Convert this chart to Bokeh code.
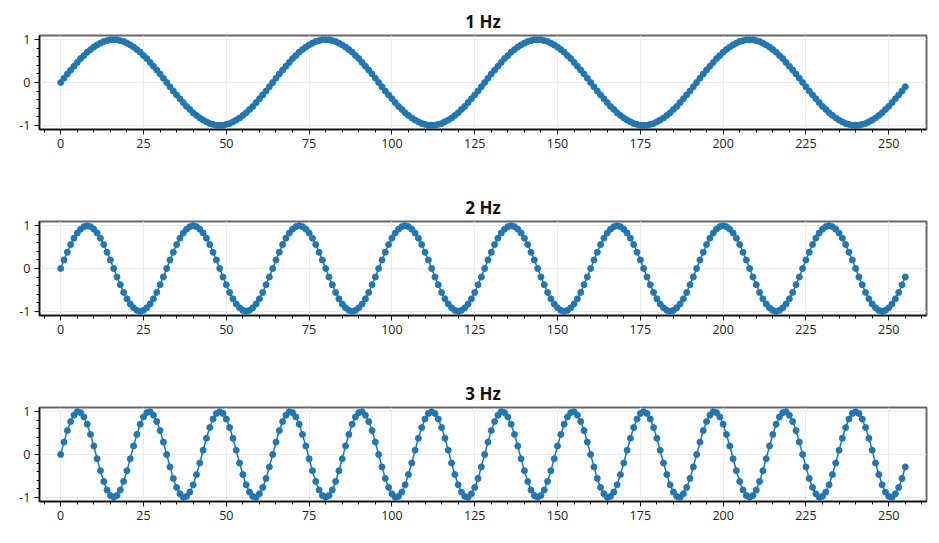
from bokeh.plotting import figure
from bokeh.layouts import column
from bokeh.models import FixedTicker, Range1d, ColumnDataSource
from bokeh.embed import file_html
from bokeh.resources import INLINE

# ---- data (256 samples per panel) ----
sample_index = list(range(256))

titles = ["1 Hz", "2 Hz", "3 Hz"]

wave_1hz = [
    0.00, 0.10, 0.20, 0.29, 0.38, 0.47, 0.56, 0.63, 0.71, 0.77, 0.83, 0.88, 0.92, 0.96, 0.98, 1.00,
    1.00, 1.00, 0.98, 0.96, 0.92, 0.88, 0.83, 0.77, 0.71, 0.63, 0.56, 0.47, 0.38, 0.29, 0.20, 0.10,
    0.00, -0.10, -0.20, -0.29, -0.38, -0.47, -0.56, -0.63, -0.71, -0.77, -0.83, -0.88, -0.92, -0.96, -0.98, -1.00,
    -1.00, -1.00, -0.98, -0.96, -0.92, -0.88, -0.83, -0.77, -0.71, -0.63, -0.56, -0.47, -0.38, -0.29, -0.20, -0.10,
    0.00, 0.10, 0.20, 0.29, 0.38, 0.47, 0.56, 0.63, 0.71, 0.77, 0.83, 0.88, 0.92, 0.96, 0.98, 1.00,
    1.00, 1.00, 0.98, 0.96, 0.92, 0.88, 0.83, 0.77, 0.71, 0.63, 0.56, 0.47, 0.38, 0.29, 0.20, 0.10,
    0.00, -0.10, -0.20, -0.29, -0.38, -0.47, -0.56, -0.63, -0.71, -0.77, -0.83, -0.88, -0.92, -0.96, -0.98, -1.00,
    -1.00, -1.00, -0.98, -0.96, -0.92, -0.88, -0.83, -0.77, -0.71, -0.63, -0.56, -0.47, -0.38, -0.29, -0.20, -0.10,
    0.00, 0.10, 0.20, 0.29, 0.38, 0.47, 0.56, 0.63, 0.71, 0.77, 0.83, 0.88, 0.92, 0.96, 0.98, 1.00,
    1.00, 1.00, 0.98, 0.96, 0.92, 0.88, 0.83, 0.77, 0.71, 0.63, 0.56, 0.47, 0.38, 0.29, 0.20, 0.10,
    0.00, -0.10, -0.20, -0.29, -0.38, -0.47, -0.56, -0.63, -0.71, -0.77, -0.83, -0.88, -0.92, -0.96, -0.98, -1.00,
    -1.00, -1.00, -0.98, -0.96, -0.92, -0.88, -0.83, -0.77, -0.71, -0.63, -0.56, -0.47, -0.38, -0.29, -0.20, -0.10,
    0.00, 0.10, 0.20, 0.29, 0.38, 0.47, 0.56, 0.63, 0.71, 0.77, 0.83, 0.88, 0.92, 0.96, 0.98, 1.00,
    1.00, 1.00, 0.98, 0.96, 0.92, 0.88, 0.83, 0.77, 0.71, 0.63, 0.56, 0.47, 0.38, 0.29, 0.20, 0.10,
    0.00, -0.10, -0.20, -0.29, -0.38, -0.47, -0.56, -0.63, -0.71, -0.77, -0.83, -0.88, -0.92, -0.96, -0.98, -1.00,
    -1.00, -1.00, -0.98, -0.96, -0.92, -0.88, -0.83, -0.77, -0.71, -0.63, -0.56, -0.47, -0.38, -0.29, -0.20, -0.10,
]

wave_2hz = [
    0.00, 0.20, 0.38, 0.56, 0.71, 0.83, 0.92, 0.98, 1.00, 0.98, 0.92, 0.83, 0.71, 0.56, 0.38, 0.20,
    0.00, -0.20, -0.38, -0.56, -0.71, -0.83, -0.92, -0.98, -1.00, -0.98, -0.92, -0.83, -0.71, -0.56, -0.38, -0.20,
    0.00, 0.20, 0.38, 0.56, 0.71, 0.83, 0.92, 0.98, 1.00, 0.98, 0.92, 0.83, 0.71, 0.56, 0.38, 0.20,
    0.00, -0.20, -0.38, -0.56, -0.71, -0.83, -0.92, -0.98, -1.00, -0.98, -0.92, -0.83, -0.71, -0.56, -0.38, -0.20,
    0.00, 0.20, 0.38, 0.56, 0.71, 0.83, 0.92, 0.98, 1.00, 0.98, 0.92, 0.83, 0.71, 0.56, 0.38, 0.20,
    0.00, -0.20, -0.38, -0.56, -0.71, -0.83, -0.92, -0.98, -1.00, -0.98, -0.92, -0.83, -0.71, -0.56, -0.38, -0.20,
    0.00, 0.20, 0.38, 0.56, 0.71, 0.83, 0.92, 0.98, 1.00, 0.98, 0.92, 0.83, 0.71, 0.56, 0.38, 0.20,
    0.00, -0.20, -0.38, -0.56, -0.71, -0.83, -0.92, -0.98, -1.00, -0.98, -0.92, -0.83, -0.71, -0.56, -0.38, -0.20,
    0.00, 0.20, 0.38, 0.56, 0.71, 0.83, 0.92, 0.98, 1.00, 0.98, 0.92, 0.83, 0.71, 0.56, 0.38, 0.20,
    0.00, -0.20, -0.38, -0.56, -0.71, -0.83, -0.92, -0.98, -1.00, -0.98, -0.92, -0.83, -0.71, -0.56, -0.38, -0.20,
    0.00, 0.20, 0.38, 0.56, 0.71, 0.83, 0.92, 0.98, 1.00, 0.98, 0.92, 0.83, 0.71, 0.56, 0.38, 0.20,
    0.00, -0.20, -0.38, -0.56, -0.71, -0.83, -0.92, -0.98, -1.00, -0.98, -0.92, -0.83, -0.71, -0.56, -0.38, -0.20,
    0.00, 0.20, 0.38, 0.56, 0.71, 0.83, 0.92, 0.98, 1.00, 0.98, 0.92, 0.83, 0.71, 0.56, 0.38, 0.20,
    0.00, -0.20, -0.38, -0.56, -0.71, -0.83, -0.92, -0.98, -1.00, -0.98, -0.92, -0.83, -0.71, -0.56, -0.38, -0.20,
    0.00, 0.20, 0.38, 0.56, 0.71, 0.83, 0.92, 0.98, 1.00, 0.98, 0.92, 0.83, 0.71, 0.56, 0.38, 0.20,
    0.00, -0.20, -0.38, -0.56, -0.71, -0.83, -0.92, -0.98, -1.00, -0.98, -0.92, -0.83, -0.71, -0.56, -0.38, -0.20,
]

wave_3hz = [
    0.00, 0.29, 0.56, 0.77, 0.92, 1.00, 0.98, 0.88, 0.71, 0.47, 0.20, -0.10, -0.38, -0.63, -0.83, -0.96,
    -1.00, -0.96, -0.83, -0.63, -0.38, -0.10, 0.20, 0.47, 0.71, 0.88, 0.98, 1.00, 0.92, 0.77, 0.56, 0.29,
    0.00, -0.29, -0.56, -0.77, -0.92, -1.00, -0.98, -0.88, -0.71, -0.47, -0.20, 0.10, 0.38, 0.63, 0.83, 0.96,
    1.00, 0.96, 0.83, 0.63, 0.38, 0.10, -0.20, -0.47, -0.71, -0.88, -0.98, -1.00, -0.92, -0.77, -0.56, -0.29,
    0.00, 0.29, 0.56, 0.77, 0.92, 1.00, 0.98, 0.88, 0.71, 0.47, 0.20, -0.10, -0.38, -0.63, -0.83, -0.96,
    -1.00, -0.96, -0.83, -0.63, -0.38, -0.10, 0.20, 0.47, 0.71, 0.88, 0.98, 1.00, 0.92, 0.77, 0.56, 0.29,
    0.00, -0.29, -0.56, -0.77, -0.92, -1.00, -0.98, -0.88, -0.71, -0.47, -0.20, 0.10, 0.38, 0.63, 0.83, 0.96,
    1.00, 0.96, 0.83, 0.63, 0.38, 0.10, -0.20, -0.47, -0.71, -0.88, -0.98, -1.00, -0.92, -0.77, -0.56, -0.29,
    0.00, 0.29, 0.56, 0.77, 0.92, 1.00, 0.98, 0.88, 0.71, 0.47, 0.20, -0.10, -0.38, -0.63, -0.83, -0.96,
    -1.00, -0.96, -0.83, -0.63, -0.38, -0.10, 0.20, 0.47, 0.71, 0.88, 0.98, 1.00, 0.92, 0.77, 0.56, 0.29,
    0.00, -0.29, -0.56, -0.77, -0.92, -1.00, -0.98, -0.88, -0.71, -0.47, -0.20, 0.10, 0.38, 0.63, 0.83, 0.96,
    1.00, 0.96, 0.83, 0.63, 0.38, 0.10, -0.20, -0.47, -0.71, -0.88, -0.98, -1.00, -0.92, -0.77, -0.56, -0.29,
    0.00, 0.29, 0.56, 0.77, 0.92, 1.00, 0.98, 0.88, 0.71, 0.47, 0.20, -0.10, -0.38, -0.63, -0.83, -0.96,
    -1.00, -0.96, -0.83, -0.63, -0.38, -0.10, 0.20, 0.47, 0.71, 0.88, 0.98, 1.00, 0.92, 0.77, 0.56, 0.29,
    0.00, -0.29, -0.56, -0.77, -0.92, -1.00, -0.98, -0.88, -0.71, -0.47, -0.20, 0.10, 0.38, 0.63, 0.83, 0.96,
    1.00, 0.96, 0.83, 0.63, 0.38, 0.10, -0.20, -0.47, -0.71, -0.88, -0.98, -1.00, -0.92, -0.77, -0.56, -0.29,
]

x_major_ticks = [0, 25, 50, 75, 100, 125, 150, 175, 200, 225, 250]
x_minor_ticks = [v for v in range(-5, 265, 5) if v % 25 != 0]
y_major_ticks = [-1, 0, 1]
y_minor_ticks = [-1.0, -0.8, -0.6, -0.4, -0.2, 0.2, 0.4, 0.6, 0.8, 1.0]
y_tick_labels = {-1: "-1", 0: "0", 1: "1"}

series = [wave_1hz, wave_2hz, wave_3hz]

FONT = "Open Sans"
BLUE = "#1f77b4"


def make_panel(title, ys, height, border_bottom):
    p = figure(
        width=931, height=height,
        output_backend="svg", toolbar_location=None,
        x_range=Range1d(-6.4, 261.4), y_range=Range1d(-1.1, 1.1),
        min_border_left=39, min_border_right=5,
        min_border_top=35, min_border_bottom=border_bottom,
        background_fill_color="white", border_fill_color="white",
        title=title,
    )
    src = ColumnDataSource(dict(x=sample_index, y=ys))
    p.line("x", "y", source=src, line_color=BLUE, line_width=1.5)
    p.scatter("x", "y", source=src, size=6, fill_color=BLUE, line_color=BLUE)

    p.title.text_font = FONT
    p.title.text_font_size = "17px"
    p.title.text_font_style = "bold"
    p.title.text_color = "#111111"
    p.title.align = "center"
    p.title.standoff = 6

    p.outline_line_color = "#666666"
    p.outline_line_width = 2

    p.xaxis.ticker = FixedTicker(ticks=x_major_ticks, minor_ticks=x_minor_ticks)
    p.yaxis.ticker = FixedTicker(ticks=y_major_ticks, minor_ticks=y_minor_ticks)
    p.yaxis.major_label_overrides = y_tick_labels

    for ax in (p.xaxis, p.yaxis):
        ax.axis_line_color = "#111111"
        ax.axis_line_width = 1.5
        ax.major_tick_line_color = "#111111"
        ax.minor_tick_line_color = "#111111"
        ax.major_tick_out = 5
        ax.major_tick_in = 0
        ax.minor_tick_out = 3
        ax.minor_tick_in = 0
        ax.major_label_text_font = FONT
        ax.major_label_text_font_size = "12.5px"
        ax.major_label_text_color = "#222222"
        ax.major_label_standoff = 4

    p.xgrid.ticker = FixedTicker(ticks=x_major_ticks)
    p.ygrid.ticker = FixedTicker(ticks=y_major_ticks)
    p.xgrid.grid_line_color = "#ebebeb"
    p.ygrid.grid_line_color = "#ebebeb"
    return p


panels = [
    make_panel(titles[0], series[0], 186, 57),
    make_panel(titles[1], series[1], 186, 57),
    make_panel(titles[2], series[2], 163, 34),
]

layout = column(*panels, spacing=0)
open("out.html", "w").write(file_html(layout, INLINE))
